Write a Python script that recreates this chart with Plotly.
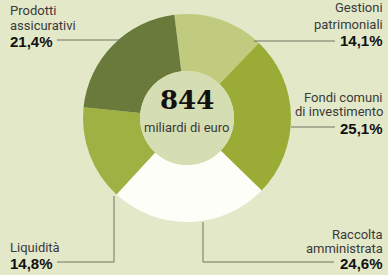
import plotly.graph_objects as go

# ---- data ----
categories = ["Gestioni patrimoniali", "Fondi comuni di investimento", "Raccolta amministrata",
              "Liquidità", "Prodotti assicurativi"]
shares = [14.1, 25.1, 24.6, 14.8, 21.4]
share_labels = ["14,1%", "25,1%", "24,6%", "14,8%", "21,4%"]
name_lines = [["Gestioni", "patrimoniali"], ["Fondi comuni", "di investimento"],
              ["Raccolta", "amministrata"], ["Liquidità"], ["Prodotti", "assicurativi"]]
total_value = "844"
total_unit = "miliardi di euro"

# ---- style ----
W, H = 388, 275
BG = "#e3e8c8"
HOLE = "#d5ddb2"
colors = ["#c0cb80", "#9aac35", "#fefef9", "#a0b143", "#6a7a3a"]
LINE = "#6f7560"
TXT = "#3a3a3a"
SANS = "Roboto, sans-serif"

cx, cy, R, r_hole = 187, 118, 104, 47

def px(x):
    return x / W

def py(y):
    return 1 - y / H

fig = go.Figure(go.Pie(
    labels=categories, values=shares, sort=False, direction="clockwise",
    rotation=-7, hole=r_hole / R,
    marker=dict(colors=colors, line=dict(width=0)),
    textinfo="none", hoverinfo="label+percent", showlegend=False,
    domain=dict(x=[px(cx - R), px(cx + R)], y=[py(cy + R), py(cy - R)]),
))

shapes = [dict(type="circle", xref="paper", yref="paper",
               x0=px(cx - r_hole), x1=px(cx + r_hole), y0=py(cy + r_hole), y1=py(cy - r_hole),
               fillcolor=HOLE, line=dict(width=0), layer="above")]

def seg(pts):
    path = "M " + " L ".join(f"{px(x)},{py(y)}" for x, y in pts)
    shapes.append(dict(type="path", xref="paper", yref="paper", path=path,
                       line=dict(color=LINE, width=1)))

seg([(57, 40), (123, 40)])            # Prodotti
seg([(254, 41), (335, 41)])           # Gestioni
seg([(291, 127), (335, 127)])         # Fondi
seg([(114, 196), (114, 262), (57, 262)])   # Liquidità
seg([(203, 222), (203, 262), (334, 262)])  # Raccolta

annotations = []

def label(idx, x, ys, anchor):
    for line, y in zip(name_lines[idx], ys[:-1]):
        annotations.append(dict(text=line, x=px(x), y=py(y), xref="paper", yref="paper",
                                xanchor=anchor, yanchor="middle", showarrow=False,
                                font=dict(family=SANS, size=13, color=TXT)))
    annotations.append(dict(text="<b>" + share_labels[idx] + "</b>", x=px(x), y=py(ys[-1]),
                            xref="paper", yref="paper", xanchor=anchor, yanchor="middle",
                            showarrow=False,
                            font=dict(family="Liberation Sans, Roboto, sans-serif", size=15, color="#111")))

label(0, 385, [8, 24, 41], "right")
label(1, 385, [97, 112, 128], "right")
label(2, 385, [234, 249, 263], "right")
label(3, 8, [247, 263], "left")
label(4, 8, [10, 26, 42], "left")

annotations.append(dict(text="<b>" + total_value + "</b>", x=px(cx), y=py(100), xref="paper", yref="paper",
                        xanchor="center", yanchor="middle", showarrow=False,
                        font=dict(family="DejaVu Serif, serif", size=26, color="#111")))
annotations.append(dict(text=total_unit, x=px(cx - 1), y=py(127), xref="paper", yref="paper",
                        xanchor="center", yanchor="middle", showarrow=False,
                        font=dict(family=SANS, size=13, color=TXT)))

fig.update_layout(width=W, height=H, margin=dict(l=0, r=0, t=0, b=0),
                  paper_bgcolor=BG, plot_bgcolor=BG,
                  shapes=shapes, annotations=annotations)

fig.write_html("out.html", config={"displayModeBar": False},
               post_script="document.body.style.margin='0';")
